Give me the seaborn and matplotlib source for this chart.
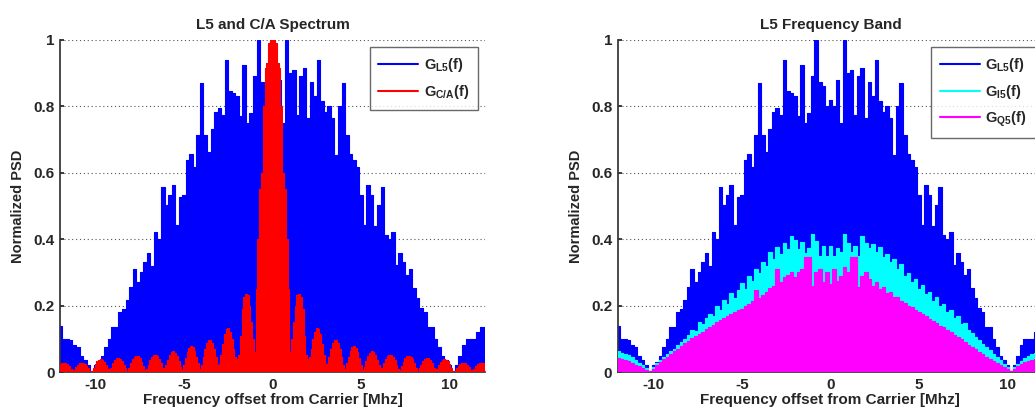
import numpy as np
import pandas as pd
import matplotlib
matplotlib.use("Agg")
import matplotlib.pyplot as plt
import seaborn as sns

# ---------------- data ----------------
freq_coarse = np.round(np.linspace(-12, 12, 121), 2)   # 0.2 MHz grid
freq_fine = np.round(np.linspace(-12, 12, 241), 2)     # 0.1 MHz grid

g_l5 = [
    0.14, 0.10, 0.10, 0.095, 0.08, 0.075, 0.047, 0.036, 0.02, 0.004,
    0.02, 0.03, 0.047, 0.076, 0.10, 0.137, 0.137, 0.18, 0.19, 0.217,
    0.257, 0.31, 0.27, 0.30, 0.33, 0.357, 0.32, 0.423, 0.40, 0.558,
    0.503, 0.532, 0.562, 0.443, 0.527, 0.532, 0.638, 0.658, 0.618, 0.713,
    0.869, 0.714, 0.664, 0.733, 0.783, 0.794, 0.774, 0.94, 0.845, 0.84,
    0.83, 0.77, 0.925, 0.75, 0.78, 0.89, 1.0, 0.874, 0.86, 0.80,
    0.82, 0.80, 0.88, 0.75, 1.0, 0.9, 0.91, 0.775, 0.89, 0.917,
    0.764, 0.874, 0.83, 0.94, 0.816, 0.783, 0.80, 0.764, 0.654, 0.80,
    0.869, 0.713, 0.658, 0.64, 0.618, 0.532, 0.443, 0.562, 0.532, 0.44,
    0.503, 0.558, 0.413, 0.40, 0.423, 0.323, 0.357, 0.33, 0.292, 0.31,
    0.252, 0.222, 0.192, 0.18, 0.137, 0.137, 0.10, 0.076, 0.047, 0.036,
    0.02, 0.004, 0.02, 0.047, 0.08, 0.10, 0.10, 0.10, 0.12, 0.137,
    0.137,
]

g_i5 = [
    0.062, 0.058, 0.054, 0.05, 0.044, 0.036, 0.028, 0.02, 0.012, 0.004,
    0.015, 0.026, 0.036, 0.046, 0.055, 0.062, 0.07, 0.082, 0.09, 0.1,
    0.112, 0.128, 0.124, 0.15, 0.146, 0.163, 0.175, 0.168, 0.2, 0.186,
    0.218, 0.205, 0.238, 0.222, 0.248, 0.268, 0.25, 0.29, 0.275, 0.31,
    0.298, 0.33, 0.318, 0.36, 0.34, 0.378, 0.355, 0.39, 0.372, 0.41,
    0.398, 0.37, 0.392, 0.358, 0.375, 0.415, 0.395, 0.35, 0.38, 0.35,
    0.38, 0.35, 0.375, 0.36, 0.415, 0.39, 0.36, 0.38, 0.35, 0.41,
    0.39, 0.375, 0.385, 0.36, 0.378, 0.345, 0.355, 0.33, 0.34, 0.31,
    0.325, 0.29, 0.298, 0.272, 0.28, 0.25, 0.262, 0.236, 0.24, 0.215,
    0.225, 0.2, 0.205, 0.18, 0.188, 0.163, 0.168, 0.145, 0.148, 0.128,
    0.118, 0.105, 0.095, 0.085, 0.075, 0.065, 0.055, 0.045, 0.035, 0.025,
    0.014, 0.004, 0.014, 0.025, 0.034, 0.042, 0.048, 0.053, 0.057, 0.06,
    0.062,
]

g_q5 = [
    0.042, 0.04, 0.036, 0.032, 0.027, 0.022, 0.017, 0.012, 0.007, 0.002,
    0.01, 0.02, 0.03, 0.038, 0.046, 0.054, 0.062, 0.07, 0.078, 0.086,
    0.094, 0.102, 0.108, 0.115, 0.122, 0.13, 0.137, 0.142, 0.15, 0.157,
    0.162, 0.168, 0.175, 0.18, 0.186, 0.19, 0.198, 0.205, 0.215, 0.246,
    0.222, 0.232, 0.24, 0.252, 0.26, 0.31, 0.27, 0.285, 0.293, 0.30,
    0.285, 0.30, 0.31, 0.345, 0.345, 0.26, 0.3, 0.31, 0.27, 0.3,
    0.265, 0.31, 0.275, 0.29, 0.315, 0.3, 0.345, 0.345, 0.255, 0.29,
    0.3, 0.28, 0.26, 0.27, 0.25, 0.255, 0.238, 0.242, 0.225, 0.225,
    0.215, 0.208, 0.2, 0.195, 0.188, 0.18, 0.175, 0.168, 0.16, 0.155,
    0.148, 0.14, 0.135, 0.128, 0.12, 0.113, 0.105, 0.098, 0.09, 0.082,
    0.076, 0.068, 0.06, 0.053, 0.046, 0.04, 0.033, 0.027, 0.02, 0.014,
    0.008, 0.002, 0.01, 0.018, 0.025, 0.03, 0.034, 0.037, 0.04, 0.042,
    0.044,
]

g_ca = [
    0.025, 0.027, 0.028, 0.027, 0.024, 0.018, 0.010, 0.004, 0.006, 0.014,
    0.021, 0.026, 0.028, 0.028, 0.025, 0.019, 0.011, 0.003, 0.002, 0.012,
    0.024, 0.033, 0.037, 0.038, 0.036, 0.030, 0.020, 0.009, 0.003, 0.013,
    0.026, 0.037, 0.042, 0.043, 0.040, 0.033, 0.022, 0.011, 0.003, 0.012,
    0.026, 0.038, 0.045, 0.048, 0.047, 0.041, 0.031, 0.019, 0.006, 0.008,
    0.022, 0.036, 0.046, 0.051, 0.052, 0.048, 0.039, 0.026, 0.012, 0.006,
    0.020, 0.037, 0.051, 0.060, 0.062, 0.058, 0.047, 0.033, 0.016, 0.006,
    0.022, 0.042, 0.060, 0.072, 0.077, 0.074, 0.063, 0.046, 0.026, 0.010,
    0.020, 0.045, 0.068, 0.086, 0.096, 0.096, 0.087, 0.068, 0.044, 0.022,
    0.025, 0.050, 0.085, 0.115, 0.130, 0.133, 0.122, 0.100, 0.070, 0.045,
    0.040, 0.050, 0.110, 0.190, 0.225, 0.236, 0.232, 0.200, 0.150, 0.100,
    0.060, 0.250, 0.400, 0.550, 0.600, 0.800, 0.915, 0.930, 0.990, 1.000,
    0.960,
    1.000, 0.990, 0.930, 0.915, 0.800, 0.600, 0.550, 0.400, 0.250, 0.060,
    0.100, 0.150, 0.200, 0.232, 0.236, 0.225, 0.190, 0.110, 0.050, 0.040,
    0.045, 0.070, 0.100, 0.122, 0.133, 0.130, 0.115, 0.085, 0.050, 0.025,
    0.022, 0.044, 0.068, 0.087, 0.096, 0.096, 0.086, 0.068, 0.045, 0.020,
    0.010, 0.026, 0.046, 0.063, 0.074, 0.077, 0.072, 0.060, 0.042, 0.022,
    0.006, 0.016, 0.033, 0.047, 0.058, 0.062, 0.060, 0.051, 0.037, 0.020,
    0.006, 0.012, 0.026, 0.039, 0.048, 0.052, 0.051, 0.046, 0.036, 0.022,
    0.008, 0.006, 0.019, 0.031, 0.041, 0.047, 0.048, 0.045, 0.038, 0.026,
    0.012, 0.003, 0.011, 0.022, 0.033, 0.040, 0.043, 0.042, 0.037, 0.026,
    0.013, 0.003, 0.009, 0.020, 0.030, 0.036, 0.038, 0.037, 0.033, 0.024,
    0.012, 0.002, 0.003, 0.011, 0.019, 0.025, 0.028, 0.028, 0.026, 0.021,
    0.014, 0.006, 0.004, 0.010, 0.018, 0.024, 0.027, 0.028, 0.027, 0.025,
]

titles = ["L5 and C/A Spectrum", "L5 Frequency Band"]
x_label = "Frequency offset from Carrier [Mhz]"
y_label = "Normalized PSD"
x_ticks = [-10, -5, 0, 5, 10]
y_ticks = [0, 0.2, 0.4, 0.6, 0.8, 1.0]
y_tick_labels = ["0", "0.2", "0.4", "0.6", "0.8", "1"]

BLUE, RED, CYAN, MAGENTA = "#0000FF", "#FF0000", "#00FFFF", "#FF00FF"

# ---------------- style ----------------
sns.set_theme(style="white")
plt.rcParams["font.family"] = ["Liberation Sans", "DejaVu Sans"]
plt.rcParams["font.weight"] = "bold"
plt.rcParams["mathtext.fontset"] = "custom"
plt.rcParams["mathtext.rm"] = "Liberation Sans:bold"
plt.rcParams["mathtext.it"] = "Liberation Sans:bold"
plt.rcParams["mathtext.bf"] = "Liberation Sans:bold"

fig = plt.figure(figsize=(10.35, 4.12), dpi=100)
ax1 = fig.add_axes([0.058, 0.097, 0.4106, 0.806])
ax2 = fig.add_axes([0.597, 0.097, 0.4106, 0.806])


def draw(ax, x, y, color, label, z):
    ax.fill_between(x, y, 0, step="mid", color=color, linewidth=0, zorder=z)
    df = pd.DataFrame({"f": x, "psd": y})
    sns.lineplot(data=df, x="f", y="psd", ax=ax, color=color, linewidth=0.8,
                 drawstyle="steps-mid", estimator=None, label=label, zorder=z + 0.5)


draw(ax1, freq_coarse, g_l5, BLUE, r"G$_{\mathrm{L5}}$(f)", 2)
draw(ax1, freq_fine, g_ca, RED, r"G$_{\mathrm{C/A}}$(f)", 3)

draw(ax2, freq_coarse, g_l5, BLUE, r"G$_{\mathrm{L5}}$(f)", 2)
draw(ax2, freq_coarse, g_i5, CYAN, r"G$_{\mathrm{I5}}$(f)", 3)
draw(ax2, freq_coarse, g_q5, MAGENTA, r"G$_{\mathrm{Q5}}$(f)", 4)

for ax, title in zip([ax1, ax2], titles):
    ax.set_xlim(-12, 12)
    ax.set_ylim(0, 1)
    ax.set_xticks(x_ticks)
    ax.set_xticklabels([str(t) for t in x_ticks])
    ax.set_yticks(y_ticks)
    ax.set_yticklabels(y_tick_labels)
    ax.tick_params(axis="both", labelsize=11, direction="in", length=3,
                   left=True, bottom=True, pad=4)
    for lab in ax.get_xticklabels() + ax.get_yticklabels():
        lab.set_fontweight("bold")
    ax.set_title(title, fontsize=11, fontweight="bold", pad=8)
    ax.set_xlabel(x_label, fontsize=11, fontweight="bold", labelpad=1)
    ax.set_ylabel(y_label, fontsize=10.5, fontweight="bold", labelpad=6)
    ax.yaxis.grid(True, linestyle=(0, (1, 2.5)), color="#555555", linewidth=0.8)
    ax.xaxis.grid(False)
    ax.set_axisbelow(True)
    for side in ["top", "right"]:
        ax.spines[side].set_visible(False)
    ax.spines["left"].set_color("#333333")
    ax.spines["bottom"].set_color("#333333")
    leg = ax.legend(loc="upper right", fontsize=10.5, frameon=True, fancybox=False,
                    edgecolor="#444444", handlelength=2.7, borderaxespad=0.5,
                    labelspacing=0.6, borderpad=0.6, handletextpad=0.4)
    leg.get_frame().set_linewidth(1.0)
    leg.set_zorder(10)
    for line in leg.get_lines():
        line.set_linewidth(1.5)

fig.savefig("out.png", dpi=100)
